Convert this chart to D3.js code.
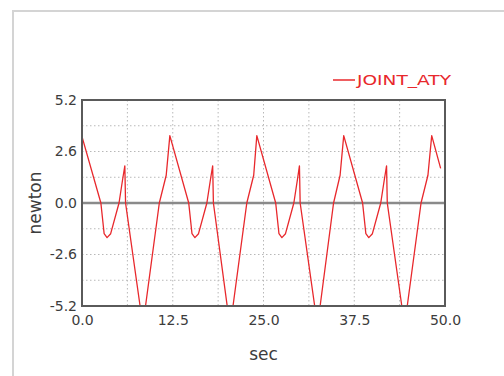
<!DOCTYPE html>
<html>
<head>
<meta charset="utf-8">
<script src="https://cdn.jsdelivr.net/npm/d3@7"></script>
<style>
  html, body { margin: 0; padding: 0; background: #fff; }
  svg { display: block; }
</style>
</head>
<body>
<svg id="chart" width="504" height="376"></svg>
<script>
// Joint reaction force (y component) over the simulation time
const seriesName = "JOINT_ATY";
const timeSec = [
  0.0, 2.6, 3.05, 3.45, 3.95, 5.1, 5.6, 5.9, 6.0, 8.0, 8.75, 10.65, 11.6,
  12.1, 14.7, 15.15, 15.55, 16.05, 17.2, 17.7, 18.0, 18.1, 20.0, 20.8, 22.7, 23.65,
  24.08, 26.68, 27.13, 27.53, 28.03, 29.18, 29.68, 29.95, 30.05, 32.05, 32.8, 34.65, 35.55,
  36.05, 38.65, 39.1, 39.5, 40.0, 41.15, 41.65, 41.95, 42.05, 44.05, 44.8, 46.7, 47.65,
  48.17, 49.4
];
const forceN = [
  3.35, 0.0, -1.55, -1.75, -1.55, 0.0, 1.2, 1.87, 0.0, -5.2, -5.2, 0.0, 1.4,
  3.4, 0.0, -1.55, -1.75, -1.55, 0.0, 1.2, 1.87, 0.0, -5.2, -5.2, 0.0, 1.4,
  3.4, 0.0, -1.55, -1.75, -1.55, 0.0, 1.2, 1.87, 0.0, -5.2, -5.2, 0.0, 1.4,
  3.4, 0.0, -1.55, -1.75, -1.55, 0.0, 1.2, 1.87, 0.0, -5.2, -5.2, 0.0, 1.4,
  3.4, 1.75
];
const xTickValues = [0, 12.5, 25, 37.5, 50];
const xTickLabels = ["0.0", "12.5", "25.0", "37.5", "50.0"];
const yTickValues = [5.2, 2.6, 0, -2.6, -5.2];
const yTickLabels = ["5.2", "2.6", "0.0", "-2.6", "-5.2"];
const xGrid = [6.25, 12.5, 18.75, 25, 31.25, 37.5, 43.75];
const yGrid = [3.9, 2.6, 1.3, -1.3, -2.6, -3.9];

const svg = d3.select("#chart");
const plot = { left: 82, right: 445, top: 100, bottom: 306 };

const x = d3.scaleLinear().domain([0, 50]).range([plot.left, plot.right]);
const y = d3.scaleLinear().domain([-5.2, 5.2]).range([plot.bottom, plot.top]);

// outer panel border
svg.append("rect")
  .attr("x", 13).attr("y", 11).attr("width", 520).attr("height", 400)
  .attr("fill", "none").attr("stroke", "#d4d4d4").attr("stroke-width", 2);

// dotted grid
const grid = svg.append("g").attr("stroke", "#b8b8b8").attr("stroke-width", 1)
  .attr("stroke-dasharray", "1.5,2.5");
grid.selectAll("line.gx").data(xGrid).join("line")
  .attr("x1", d => x(d)).attr("x2", d => x(d))
  .attr("y1", plot.top).attr("y2", plot.bottom);
grid.selectAll("line.gy").data(yGrid).join("line")
  .attr("x1", plot.left).attr("x2", plot.right)
  .attr("y1", d => y(d)).attr("y2", d => y(d));

// zero line
svg.append("line")
  .attr("x1", plot.left).attr("x2", plot.right)
  .attr("y1", y(0)).attr("y2", y(0))
  .attr("stroke", "#8a8a8a").attr("stroke-width", 2.5);

// clip for the series
svg.append("clipPath").attr("id", "plotClip")
  .append("rect").attr("x", plot.left).attr("y", plot.top - 1)
  .attr("width", plot.right - plot.left).attr("height", plot.bottom - plot.top + 2);

const pts = timeSec.map((t, i) => [t, forceN[i]]);
svg.append("path")
  .datum(pts)
  .attr("clip-path", "url(#plotClip)")
  .attr("fill", "none")
  .attr("stroke", "#e8282c")
  .attr("stroke-width", 1.3)
  .attr("stroke-linejoin", "round")
  .attr("d", d3.line().x(d => x(d[0])).y(d => y(d[1])));

// plot frame
svg.append("rect")
  .attr("x", plot.left).attr("y", plot.top)
  .attr("width", plot.right - plot.left).attr("height", plot.bottom - plot.top)
  .attr("fill", "none").attr("stroke", "#5a5a5a").attr("stroke-width", 2);

// axes (labels only; frame drawn above)
const font = "DejaVu Sans, sans-serif";
const xAxis = d3.axisBottom(x).tickValues(xTickValues)
  .tickFormat((d, i) => xTickLabels[i]).tickSize(0).tickPadding(9);
const gx = svg.append("g").attr("transform", `translate(0,${plot.bottom})`).call(xAxis);
gx.select(".domain").remove();
gx.selectAll("text").attr("font-family", font).attr("font-size", 14).attr("fill", "#3c3c3c");

const yAxis = d3.axisLeft(y).tickValues(yTickValues)
  .tickFormat((d, i) => yTickLabels[i]).tickSize(0).tickPadding(5);
const gy = svg.append("g").attr("transform", `translate(${plot.left},0)`).call(yAxis);
gy.select(".domain").remove();
gy.selectAll("text").attr("font-family", font).attr("font-size", 14).attr("fill", "#3c3c3c");

// axis titles
svg.append("text")
  .attr("x", (plot.left + plot.right) / 2).attr("y", 360)
  .attr("text-anchor", "middle")
  .attr("font-family", font).attr("font-size", 17).attr("fill", "#3c3c3c")
  .text("sec");
svg.append("text")
  .attr("transform", `translate(41,${y(0)}) rotate(-90)`)
  .attr("text-anchor", "middle")
  .attr("font-family", font).attr("font-size", 17).attr("fill", "#3c3c3c")
  .text("newton");

// legend
svg.append("line")
  .attr("x1", 333).attr("x2", 355).attr("y1", 80).attr("y2", 80)
  .attr("stroke", "#e8282c").attr("stroke-width", 1.5);
svg.append("text")
  .attr("x", 357).attr("y", 85)
  .attr("font-family", font).attr("font-size", 14).attr("fill", "#e8282c")
  .attr("textLength", 94).attr("lengthAdjust", "spacingAndGlyphs")
  .text(seriesName);
</script>
</body>
</html>
